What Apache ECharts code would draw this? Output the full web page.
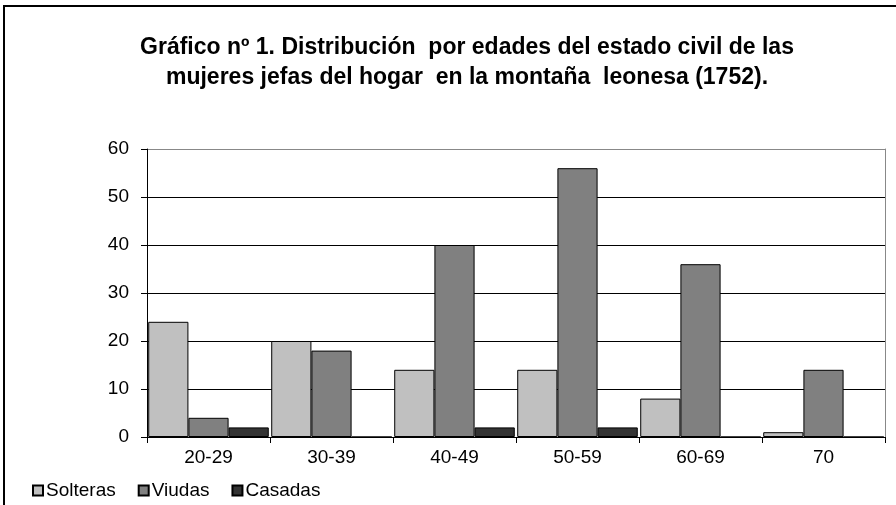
<!DOCTYPE html>
<html lang="es">
<head>
    <meta charset="UTF-8">
    <title>Gráfico nº 1</title>
    <style>
        html, body { margin: 0; padding: 0; background: #fff; }
        #chart { width: 896px; height: 505px; }
    </style>
    <script src="https://cdn.jsdelivr.net/npm/echarts@6/dist/echarts.min.js"></script>
</head>
<body>
<div id="chart"></div>
<script>
    // datos
    var edades = ['20-29', '30-39', '40-49', '50-59', '60-69', '70'];
    var solteras = [24, 20, 14, 14, 8, 1];
    var viudas = [4, 18, 40, 56, 36, 14];
    var casadas = [2, 0, 2, 2, 0, 0];

    var fuente = 'Liberation Sans, Arial, sans-serif';
    var myChart = echarts.init(document.getElementById('chart'));

    function serie(nombre, datos, color) {
        return {
            name: nombre,
            type: 'bar',
            data: datos,
            barGap: 0,
            barCategoryGap: '2%',
            itemStyle: { color: color, borderColor: '#000', borderWidth: 1 }
        };
    }

    var option = {
        animation: false,
        backgroundColor: '#fff',
        title: {
            text: 'Gráfico nº 1. Distribución  por edades del estado civil de las\nmujeres jefas del hogar  en la montaña  leonesa (1752).',
            left: 467,
            top: 33,
            padding: 0,
            textAlign: 'center',
            textStyle: { fontFamily: fuente, fontSize: 23, fontWeight: 'bold', color: '#000', lineHeight: 30 }
        },
        legend: {
            left: 32,
            top: 481,
            padding: 0,
            icon: 'rect',
            itemWidth: 10,
            itemHeight: 10,
            itemGap: 22,
            textStyle: { fontFamily: fuente, fontSize: 19, color: '#000', padding: [0, 0, 0, -2] },
            data: ['Solteras', 'Viudas', 'Casadas']
        },
        grid: { left: 147, right: 11, top: 149, bottom: 68 },
        xAxis: {
            type: 'category',
            data: edades,
            axisLine: { lineStyle: { color: '#000', width: 1 } },
            axisTick: { show: true, length: 6, lineStyle: { color: '#000' } },
            axisLabel: { fontFamily: fuente, fontSize: 19, color: '#000', margin: 11 }
        },
        yAxis: [{
            type: 'value',
            min: 0,
            max: 60,
            interval: 10,
            axisLine: { show: true, lineStyle: { color: '#000' } },
            axisTick: { show: true, length: 6, lineStyle: { color: '#000' } },
            axisLabel: { fontFamily: fuente, fontSize: 19, color: '#000', margin: 18 },
            splitLine: { lineStyle: { color: ['#000', '#000', '#000', '#000', '#000', '#000', '#888'], width: 1 } }
        }, {
            type: 'value',
            position: 'right',
            min: 0,
            max: 60,
            axisLine: { show: true, lineStyle: { color: '#888' } },
            axisTick: { show: false },
            axisLabel: { show: false },
            splitLine: { show: false }
        }],
        graphic: [{
            type: 'rect',
            shape: { x: 4, y: 6, width: 1000, height: 1000 },
            style: { fill: 'none', stroke: '#000', lineWidth: 2 },
            silent: true
        }],
        series: [
            serie('Solteras', solteras, '#c0c0c0'),
            serie('Viudas', viudas, '#808080'),
            serie('Casadas', casadas, '#333333')
        ]
    };

    myChart.setOption(option);
</script>
</body>
</html>
